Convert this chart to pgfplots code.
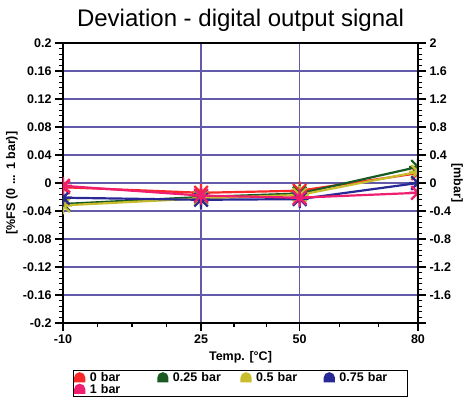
\documentclass[border=0pt]{standalone}
\usepackage{pgfplots}
\pgfplotsset{compat=1.18}
\usepackage{fontspec}
\setmainfont{Liberation Sans}
\setsansfont{Liberation Sans}

\definecolor{cRed}{RGB}{250,40,40}
\definecolor{cGreen}{RGB}{25,90,35}
\definecolor{cYellow}{RGB}{200,190,45}
\definecolor{cBlue}{RGB}{40,40,150}
\definecolor{cPink}{RGB}{240,30,110}
\definecolor{gridc}{RGB}{100,90,170}

% eight-armed star marker
\pgfdeclareplotmark{star8}{%
  \pgfpathmoveto{\pgfqpoint{-\pgfplotmarksize}{0pt}}\pgfpathlineto{\pgfqpoint{\pgfplotmarksize}{0pt}}%
  \pgfpathmoveto{\pgfqpoint{0pt}{-\pgfplotmarksize}}\pgfpathlineto{\pgfqpoint{0pt}{\pgfplotmarksize}}%
  \pgfpathmoveto{\pgfqpoint{-0.75\pgfplotmarksize}{-0.75\pgfplotmarksize}}\pgfpathlineto{\pgfqpoint{0.75\pgfplotmarksize}{0.75\pgfplotmarksize}}%
  \pgfpathmoveto{\pgfqpoint{-0.75\pgfplotmarksize}{0.75\pgfplotmarksize}}\pgfpathlineto{\pgfqpoint{0.75\pgfplotmarksize}{-0.75\pgfplotmarksize}}%
  \pgfusepathqstroke}

\newcommand{\lblfont}{\bfseries\fontsize{12.5}{13}\selectfont}

\pgfplotsset{
  devaxis/.style={
    scale only axis,
    width=355pt, height=280pt,
    xmin=-10, xmax=80,
    tick align=outside,
    major tick length=8pt, minor tick length=4pt,
    every tick/.append style={black, line width=1.2pt},
    tick label style={font=\lblfont},
    /pgf/number format/assume math mode=true,
  }
}

\begin{document}
\begin{tikzpicture}
\begin{axis}[
  name=main,
  devaxis,
  ymin=-0.2, ymax=0.2,
  ytick={-0.2,-0.16,-0.12,-0.08,-0.04,0,0.04,0.08,0.12,0.16,0.2},
  yticklabels={-0.2,-0.16,-0.12,-0.08,-0.04,0,0.04,0.08,0.12,0.16,0.2},
  minor ytick={-0.192,-0.184,-0.176,-0.168,-0.152,-0.144,-0.136,-0.128,-0.112,-0.104,-0.096,-0.088,-0.072,-0.064,-0.056,-0.048,-0.032,-0.024,-0.016,-0.008,0.008,0.016,0.024,0.032,0.048,0.056,0.064,0.072,0.088,0.096,0.104,0.112,0.128,0.136,0.144,0.152,0.168,0.176,0.184,0.192},
  xtick={-10,25,50,80},
  minor xtick={-1.25,7.5,16.25,33.33,41.67,60,70},
  ytick pos=both, yticklabel pos=left, xtick pos=bottom,
  axis line style={black, line width=2.4pt},
  xmajorgrids, ymajorgrids,
  every axis grid/.style={color=gridc, line width=1.2pt},
  title={Deviation - digital output signal},
  title style={font=\fontsize{24}{26}\selectfont, at={(0.5,1)}, anchor=south, yshift=2pt},
  xlabel={Temp. [°C]},
  ylabel={[\%FS (0 ... 1 bar)]},
  every axis x label/.style={at={(axis description cs:0.5,-0.121)}, anchor=center, font=\lblfont},
  every axis y label/.style={at={(axis description cs:-0.144,0.5)}, anchor=center, rotate=90, font=\lblfont},
  clip marker paths=true,
  every axis plot/.append style={line width=2.2pt, mark=star8, mark size=9pt,
    every mark/.append style={line width=2.2pt}},
  legend columns=4,
  legend cell align=left,
  legend style={at={(0.5,-0.168)}, anchor=north, draw=black, line width=1pt,
    font=\lblfont, inner sep=0.5pt, row sep=-2pt,
    nodes={text width=66pt, inner sep=1.5pt},
    /tikz/every odd column/.append style={column sep=3pt}},
  legend image code/.code={\fill[#1] (0pt,-3.5pt) -- (0pt,0pt) arc[start angle=180,end angle=0,radius=4.5pt] -- (9pt,-3.5pt) -- cycle;},
]
\addplot[color=cRed] coordinates {(-10,-0.006) (25,-0.014) (50,-0.011) (80,0.014)};
\addplot[color=cGreen] coordinates {(-10,-0.030) (25,-0.020) (50,-0.015) (80,0.023)};
\addplot[color=cYellow] coordinates {(-10,-0.032) (25,-0.022) (50,-0.017) (80,0.016)};
\addplot[color=cBlue] coordinates {(-10,-0.021) (25,-0.024) (50,-0.023) (80,0.000)};
\addplot[color=cPink] coordinates {(-10,-0.004) (25,-0.018) (50,-0.021) (80,-0.014)};
\legend{0 bar, 0.25 bar, 0.5 bar, 0.75 bar, 1 bar}
\end{axis}
\begin{axis}[
  devaxis,
  axis x line=none,
  axis y line*=right,
  axis line style={black, line width=2.4pt},
  ymin=-2, ymax=2,
  ytick={-2,-1.6,-1.2,-0.8,-0.4,0,0.4,0.8,1.2,1.6,2},
  yticklabels={,-1.6,-1.2,-0.8,-0.4,0,0.4,0.8,1.2,1.6,2},
  minor ytick={-1.92,-1.84,-1.76,-1.68,-1.52,-1.44,-1.36,-1.28,-1.12,-1.04,-0.96,-0.88,-0.72,-0.64,-0.56,-0.48,-0.32,-0.24,-0.16,-0.08,0.08,0.16,0.24,0.32,0.48,0.56,0.64,0.72,0.88,0.96,1.04,1.12,1.28,1.36,1.44,1.52,1.68,1.76,1.84,1.92},
  ylabel={[mbar]},
  every axis y label/.style={at={(axis description cs:1.11,0.5)}, anchor=center, rotate=-90, font=\lblfont},
]
\end{axis}
\pgfresetboundingbox
\path[use as bounding box] ([xshift=-63pt,yshift=-82pt]main.south west) rectangle ([xshift=50pt,yshift=43pt]main.north east);
\end{tikzpicture}
\end{document}
